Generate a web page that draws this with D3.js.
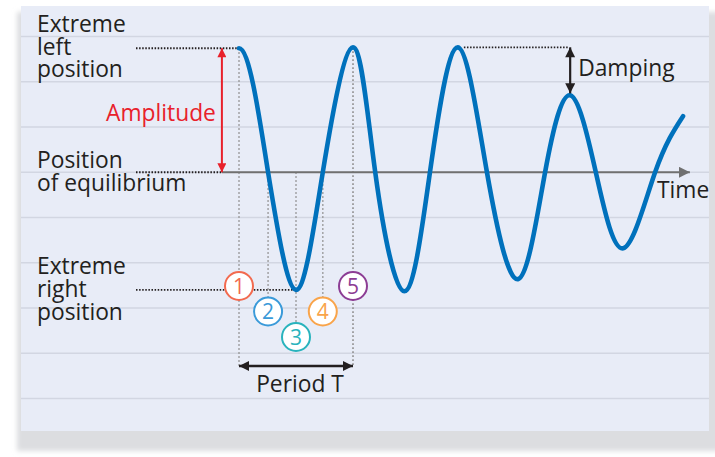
<!DOCTYPE html>
<html><head><meta charset="utf-8">
<script src="https://d3js.org/d3.v7.min.js"></script>
<style>body{margin:0;background:#fff}svg{display:block}</style>
</head><body>
<svg id="chart" width="715" height="457"></svg>
<script>
// ---- data ----
// time in half-periods, displacement in grid units (one grid band = 1)
const time         = [0, 0.51, 1.0, 1.47, 2.0, 2.39, 2.9, 3.35, 3.84, 4.35, 4.9, 5.37, 5.81, 6.26, 6.74, 7.3, 7.79];
const displacement = [2.74, 0, -2.6, 0, 2.76, 0, -2.63, 0, 2.76, 0, -2.36, 0, 1.7, 0, -1.68, 0, 1.24];
const gridLevels   = [3, 2, 1, 0, -1, -2, -3, -4, -5];
const phaseTimes   = [0, 0.51, 1.0, 1.47, 2.0];        // numbered positions 1..5
const phaseLabels  = ["1", "2", "3", "4", "5"];
const phaseColors  = ["#F26A4F", "#3A9AD9", "#29B3BD", "#F9A44A", "#8C3D94"];
const phaseRow     = [0, 1, 2, 1, 0];
const leftLabels   = [["Extreme", "left", "position"], ["Position", "of equilibrium"], ["Extreme", "right", "position"]];
const axisLabel = "Time", amplitudeLabel = "Amplitude", dampingLabel = "Damping", periodLabel = "Period T";

// ---- setup ----
const W = 715, H = 457;
const svg = d3.select("#chart");
const FONT = "'Open Sans', 'DejaVu Sans', sans-serif";
const FS = 22.8;
const INK = "#231F20";

const x = d3.scaleLinear().domain([0, 8]).range([239, 695]);
const y = d3.scaleLinear().domain([-5, 3]).range([398.5, 36.5]);

const defs = svg.append("defs");
defs.append("filter").attr("id", "blur").attr("x", "-5%").attr("y", "-5%").attr("width", "110%").attr("height", "110%")
  .append("feGaussianBlur").attr("stdDeviation", 2.5);
function marker(id, color, w, h) {
  defs.append("marker").attr("id", id).attr("viewBox", "0 0 10 10").attr("refX", 10).attr("refY", 5)
    .attr("markerUnits", "userSpaceOnUse").attr("markerWidth", w).attr("markerHeight", h)
    .attr("orient", "auto-start-reverse")
    .append("path").attr("d", "M0,0 L10,5 L0,10 Z").attr("fill", color);
}
marker("arrBlack", INK, 11, 10);
marker("arrRed", "#E8212B", 11, 9);
marker("arrGray", "#707070", 11, 11);

// panel + shadow
const panel = {x0: 21, y0: 6, x1: 709, y1: 431};
svg.append("rect").attr("x", panel.x0 - 4).attr("y", panel.y0 + 6)
  .attr("width", W - panel.x0 + 20).attr("height", panel.y1 - panel.y0 + 14)
  .attr("fill", "#DCDDE0").attr("filter", "url(#blur)");
svg.append("rect").attr("x", panel.x0).attr("y", panel.y0)
  .attr("width", panel.x1 - panel.x0).attr("height", panel.y1 - panel.y0).attr("fill", "#E8ECF7");

// grid lines
svg.append("g").selectAll("line").data(gridLevels).join("line")
  .attr("x1", panel.x0).attr("x2", panel.x1)
  .attr("y1", d => y(d)).attr("y2", d => y(d))
  .attr("stroke", "#D2D6E2").attr("stroke-width", 1.6);

const peak0 = displacement[0];
const trough0 = displacement[2];
const labelX = 37;
const guideX0 = 136;
const ampX = x(-0.3);

// black dotted guides
const dotted = (x1, y1, x2, y2) => svg.append("line").attr("x1", x1).attr("y1", y1).attr("x2", x2).attr("y2", y2)
  .attr("stroke", INK).attr("stroke-width", 1.8).attr("stroke-dasharray", "1.5 1.6");
dotted(guideX0, y(peak0), x(0), y(peak0));
dotted(guideX0, y(0), ampX, y(0));
dotted(guideX0, y(trough0), x(phaseTimes[2]), y(trough0));

// gray dotted verticals
const circleY = i => 286 + 25.5 * phaseRow[i];
const R = 14;
const periodY = 366;
const vStart = [y(displacement[0]), y(0), y(0), y(0), y(displacement[4])];
const vEnd = phaseTimes.map((t, i) => (i === 0 || i === 4) ? periodY : circleY(i) - R);
svg.append("g").selectAll("line").data(phaseTimes).join("line")
  .attr("x1", d => x(d)).attr("x2", d => x(d))
  .attr("y1", (d, i) => vStart[i]).attr("y2", (d, i) => vEnd[i])
  .attr("stroke", "#8F8F8F").attr("stroke-width", 1.6).attr("stroke-dasharray", "1.6 2.4");

// time axis
svg.append("line").attr("x1", ampX).attr("x2", x(7.91)).attr("y1", y(0)).attr("y2", y(0))
  .attr("stroke", "#707070").attr("stroke-width", 2).attr("marker-end", "url(#arrGray)");

// wave: the oscillation starts at rest at the extreme (flat start),
// first quarter as a cosine-like cubic, then a natural spline through the read points
const pts = time.map((t, i) => [t, displacement[i]]);
const X0 = x(pts[0][0]), Y0 = y(pts[0][1]), X1 = x(pts[1][0]), Y1 = y(pts[1][1]);
const dx = X1 - X0, dy = Y1 - Y0;
const startSeg = `M${X0},${Y0}C${X0 + 0.348 * dx},${Y0} ${X0 + 0.674 * dx},${Y0 + 0.512 * dy} ${X1},${Y1}`;
const rest = d3.line().x(d => x(d[0])).y(d => y(d[1])).curve(d3.curveNatural)(pts.slice(1)).replace(/^M[^C]*/, "");
svg.append("path")
  .attr("d", startSeg + rest)
  .attr("fill", "none").attr("stroke", "#0071BC").attr("stroke-width", 4.6)
  .attr("stroke-linecap", "round").attr("stroke-linejoin", "round");

// amplitude arrow
svg.append("line").attr("x1", ampX).attr("x2", ampX).attr("y1", y(0)).attr("y2", y(peak0))
  .attr("stroke", "#E8212B").attr("stroke-width", 2)
  .attr("marker-start", "url(#arrRed)").attr("marker-end", "url(#arrRed)");

// damping
const pk3 = displacement[8], pk4 = displacement[12];
const dampX = x(time[12]);
dotted(x(time[8]) + 6, y(pk3), dampX - 2, y(pk3));
svg.append("line").attr("x1", dampX).attr("x2", dampX).attr("y1", y(pk3)).attr("y2", y(pk4) - 2)
  .attr("stroke", INK).attr("stroke-width", 2.2)
  .attr("marker-start", "url(#arrBlack)").attr("marker-end", "url(#arrBlack)");

// period arrow
svg.append("line").attr("x1", x(phaseTimes[0])).attr("x2", x(phaseTimes[4])).attr("y1", periodY).attr("y2", periodY)
  .attr("stroke", INK).attr("stroke-width", 2.5)
  .attr("marker-start", "url(#arrBlack)").attr("marker-end", "url(#arrBlack)");

// numbered circles
const cg = svg.append("g").selectAll("g").data(phaseTimes).join("g")
  .attr("transform", (d, i) => `translate(${x(d)},${circleY(i)})`);
cg.append("circle").attr("r", R).attr("fill", "#fff")
  .attr("stroke", (d, i) => phaseColors[i]).attr("stroke-width", 2);
cg.append("text").attr("text-anchor", "middle").attr("y", 7.5)
  .attr("font-family", FONT).attr("font-size", 21)
  .attr("fill", (d, i) => phaseColors[i]).text((d, i) => phaseLabels[i]);

// text labels
const text = (s, tx, ty, opts = {}) => svg.append("text").attr("x", tx).attr("y", ty)
  .attr("font-family", FONT).attr("font-size", opts.size || FS)
  .attr("fill", opts.fill || INK).attr("text-anchor", opts.anchor || "start").text(s);
const leftBase = [32, 168, 274];
const lineH = [22.5, 23, 23];
leftLabels.forEach((lines, g) => {
  const t = svg.append("text").attr("font-family", FONT).attr("font-size", FS).attr("fill", INK);
  lines.forEach((s, k) => t.append("tspan").attr("x", labelX).attr("y", leftBase[g] + k * lineH[g]).text(s));
});
text(amplitudeLabel, ampX - 6, 121, {anchor: "end", fill: "#E8212B"});
text(dampingLabel, dampX + 8, 76);
text(periodLabel, (x(phaseTimes[0]) + x(phaseTimes[4])) / 2 + 4, 392, {anchor: "middle"});
text(axisLabel, 657, 198);
</script>
</body></html>
